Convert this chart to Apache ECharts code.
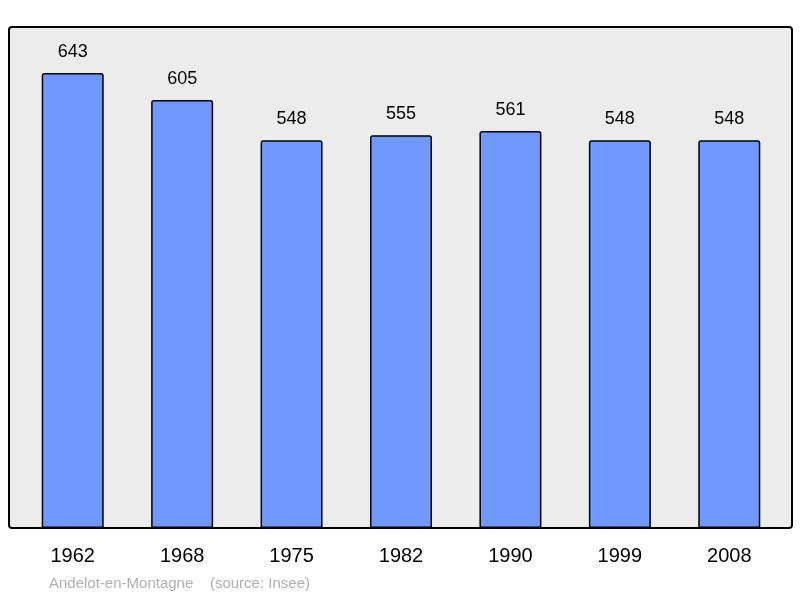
<!DOCTYPE html>
<html>
<head>
<meta charset="utf-8">
<script src="https://cdn.jsdelivr.net/npm/echarts@6/dist/echarts.min.js"></script>
<style>html,body{margin:0;padding:0;background:#fff}#c{width:800px;height:598px}</style>
</head>
<body>
<div id="c"></div>
<script>
var years = ['1962', '1968', '1975', '1982', '1990', '1999', '2008'];
var population = [643, 605, 548, 555, 561, 548, 548];

var myC = echarts.init(document.getElementById('c'));
myC.setOption({
    animation: false,
    backgroundColor: '#ffffff',
    graphic: [{
        type: 'rect',
        z: -10,
        shape: { x: 9, y: 27, width: 783, height: 501, r: 3 },
        style: { fill: '#ececec', stroke: '#000', lineWidth: 2 }
    }, {
        type: 'text',
        left: 49, top: 576,
        style: { text: 'Andelot-en-Montagne    (source: Insee)', fill: '#b0b0b0', fontSize: 15, fontFamily: 'Liberation Sans' }
    }],
    grid: { left: 18, right: 16, top: 27, bottom: 70 },
    xAxis: {
        type: 'category',
        data: years,
        axisLine: { show: false },
        axisTick: { show: false },
        axisLabel: { fontSize: 20, color: '#000', margin: 18, fontFamily: 'Liberation Sans' }
    },
    yAxis: {
        type: 'value',
        min: 0, max: 708,
        show: false,
        splitLine: { show: false }
    },
    series: [{
        type: 'bar',
        data: population,
        barWidth: 62,
        itemStyle: { color: '#7098ff', borderColor: '#000', borderWidth: 1.5, borderRadius: [2, 2, 0, 0] },
        label: { show: true, position: 'top', distance: 12, fontSize: 18, color: '#000', fontFamily: 'Liberation Sans' }
    }]
});
</script>
</body>
</html>
